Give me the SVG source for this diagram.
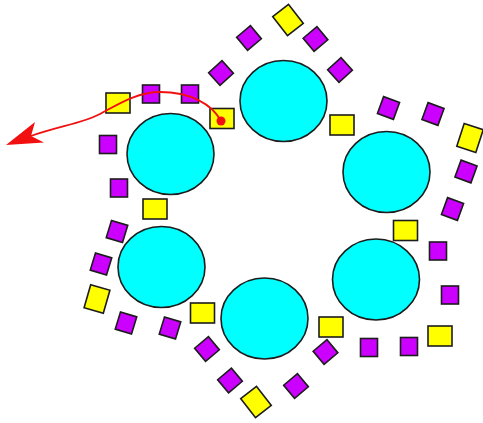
<svg xmlns="http://www.w3.org/2000/svg" xmlns:xlink="http://www.w3.org/1999/xlink" width="483" height="423" viewBox="0 0 483 423">
<style>
.c{fill:#00ffff;stroke:#1c1c1c;stroke-width:1.6}
.y{fill:#ffff00;stroke:#1c1c1c;stroke-width:1.6}
.p{fill:#cc00ff;stroke:#1c1c1c;stroke-width:1.6}
.edge{fill:none;stroke:#f20f0f;stroke-width:1.8}
.head{fill:#f20f0f;stroke:none}
</style>
<defs>
<rect id="ys" x="-12" y="-10" width="24" height="20"/>
<rect id="ps" x="-8.5" y="-9" width="17" height="18"/>
<ellipse id="cs" cx="0" cy="0" rx="43.5" ry="40.5"/>
</defs>
<rect width="483" height="423" fill="#ffffff"/>
<g id="nodes">
<g id="c1" transform="translate(170.5,154)"><use xlink:href="#cs" class="c"/></g>
<g id="c2" transform="translate(283.5,101)"><use xlink:href="#cs" class="c"/></g>
<g id="c3" transform="translate(386.5,172)"><use xlink:href="#cs" class="c"/></g>
<g id="c4" transform="translate(376,279.5)"><use xlink:href="#cs" class="c"/></g>
<g id="c5" transform="translate(264.5,318.5)"><use xlink:href="#cs" class="c"/></g>
<g id="c6" transform="translate(161.5,267)"><use xlink:href="#cs" class="c"/></g>

<g id="y1" transform="translate(118,103)"><use xlink:href="#ys" class="y"/></g>
<g id="y2" transform="translate(288,20) rotate(52)"><use xlink:href="#ys" class="y"/></g>
<g id="y3" transform="translate(470,138) rotate(-72)"><use xlink:href="#ys" class="y"/></g>
<g id="y4" transform="translate(440,336)"><use xlink:href="#ys" class="y"/></g>
<g id="y5" transform="translate(256,402) rotate(52)"><use xlink:href="#ys" class="y"/></g>
<g id="y6" transform="translate(97,299) rotate(-74)"><use xlink:href="#ys" class="y"/></g>
<g id="y7" transform="translate(222,118.5)"><use xlink:href="#ys" class="y"/></g>
<g id="y8" transform="translate(342,125)"><use xlink:href="#ys" class="y"/></g>
<g id="y9" transform="translate(405.5,230.5)"><use xlink:href="#ys" class="y"/></g>
<g id="y10" transform="translate(331,327)"><use xlink:href="#ys" class="y"/></g>
<g id="y11" transform="translate(202.5,313)"><use xlink:href="#ys" class="y"/></g>
<g id="y12" transform="translate(155,209)"><use xlink:href="#ys" class="y"/></g>

<g id="p1" transform="translate(151,94)"><use xlink:href="#ps" class="p"/></g>
<g id="p2" transform="translate(190,94)"><use xlink:href="#ps" class="p"/></g>
<g id="p3" transform="translate(108,144.5)"><use xlink:href="#ps" class="p"/></g>
<g id="p4" transform="translate(119,188)"><use xlink:href="#ps" class="p"/></g>
<g id="p5" transform="translate(221,73) rotate(48)"><use xlink:href="#ps" class="p"/></g>
<g id="p6" transform="translate(249,38) rotate(50)"><use xlink:href="#ps" class="p"/></g>
<g id="p7" transform="translate(315.5,39) rotate(50)"><use xlink:href="#ps" class="p"/></g>
<g id="p8" transform="translate(340,70) rotate(48)"><use xlink:href="#ps" class="p"/></g>
<g id="p9" transform="translate(388.5,108) rotate(20)"><use xlink:href="#ps" class="p"/></g>
<g id="p10" transform="translate(433,114) rotate(20)"><use xlink:href="#ps" class="p"/></g>
<g id="p11" transform="translate(466,171.5) rotate(20)"><use xlink:href="#ps" class="p"/></g>
<g id="p12" transform="translate(452.5,209) rotate(20)"><use xlink:href="#ps" class="p"/></g>
<g id="p13" transform="translate(438,251)"><use xlink:href="#ps" class="p"/></g>
<g id="p14" transform="translate(450,295)"><use xlink:href="#ps" class="p"/></g>
<g id="p15" transform="translate(409,346.5)"><use xlink:href="#ps" class="p"/></g>
<g id="p16" transform="translate(369,347.5)"><use xlink:href="#ps" class="p"/></g>
<g id="p17" transform="translate(325.5,352) rotate(50)"><use xlink:href="#ps" class="p"/></g>
<g id="p18" transform="translate(296,386) rotate(50)"><use xlink:href="#ps" class="p"/></g>
<g id="p19" transform="translate(230,380.5) rotate(50)"><use xlink:href="#ps" class="p"/></g>
<g id="p20" transform="translate(207,349) rotate(50)"><use xlink:href="#ps" class="p"/></g>
<g id="p21" transform="translate(117,231.5) rotate(17)"><use xlink:href="#ps" class="p"/></g>
<g id="p22" transform="translate(101,264) rotate(17)"><use xlink:href="#ps" class="p"/></g>
<g id="p23" transform="translate(126,323) rotate(17)"><use xlink:href="#ps" class="p"/></g>
<g id="p24" transform="translate(170,328) rotate(17)"><use xlink:href="#ps" class="p"/></g>
</g>
<g id="connectors">
<path class="edge" d="M221,121 C212,104 190,92 160,92 C137,92 117,105 100,114 S60,126 31,136"/>
<path class="head" d="M6,145 L35,122 L31,136 L44,142.5 Z"/>
<circle cx="221" cy="121" r="4.5" fill="#f20f0f"/>
</g>
</svg>
